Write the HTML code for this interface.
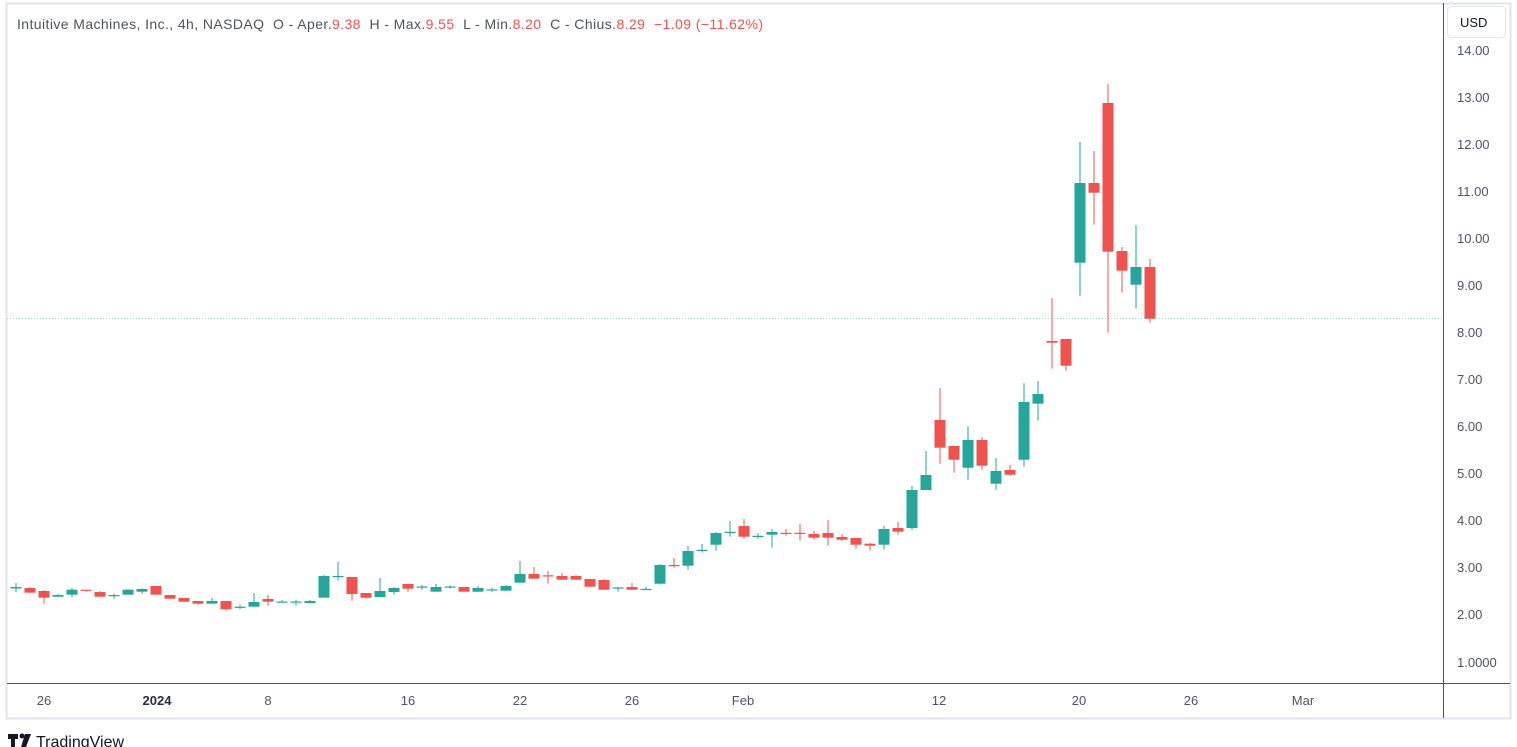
<!DOCTYPE html>
<html><head><meta charset="utf-8"><style>
html,body{margin:0;padding:0;background:#fff;}
body{width:1517px;height:747px;overflow:hidden;position:relative;font-family:"Liberation Sans",sans-serif;}
</style></head><body>
<svg id="s" width="1517" height="747" viewBox="0 0 1517 747" xmlns="http://www.w3.org/2000/svg" style="position:absolute;left:0;top:0">
<rect x="0" y="0" width="1517" height="747" fill="#fff"/>
<rect x="6.5" y="3.5" width="1504" height="715" fill="none" stroke="#e0e3eb" stroke-width="2"/>
<line x1="7" y1="683.5" x2="1510" y2="683.5" stroke="#50535e" stroke-width="1"/>
<line x1="1443.5" y1="3" x2="1443.5" y2="718" stroke="#50535e" stroke-width="1"/>
<line x1="7" y1="318.5" x2="1443" y2="318.5" stroke="#9bd6d0" stroke-width="1" stroke-dasharray="1,2"/>
<g id="c"></g>
<g font-size="13" fill="#50535e" font-family="Liberation Sans,sans-serif">
<text x="1457" y="55">14.00</text><text x="1457" y="102">13.00</text><text x="1457" y="149">12.00</text>
<text x="1457" y="196">11.00</text><text x="1457" y="243">10.00</text><text x="1457" y="290">9.00</text>
<text x="1457" y="337">8.00</text><text x="1457" y="384">7.00</text><text x="1457" y="431">6.00</text>
<text x="1457" y="478">5.00</text><text x="1457" y="525">4.00</text><text x="1457" y="572">3.00</text>
<text x="1457" y="619">2.00</text><text x="1457" y="667">1.0000</text>
</g>
<rect x="1447.5" y="6.5" width="58" height="31" rx="4" fill="#fff" stroke="#e0e3eb"/>
<text x="1460" y="27" font-size="13" fill="#131722">USD</text>
<g font-size="13" fill="#50535e" text-anchor="middle">
<text x="44" y="705">26</text><text x="157" y="705" font-weight="bold" fill="#2a2e39">2024</text>
<text x="268" y="705">8</text><text x="408" y="705">16</text><text x="520" y="705">22</text>
<text x="632" y="705">26</text><text x="743" y="705">Feb</text><text x="939" y="705">12</text>
<text x="1079" y="705">20</text><text x="1191" y="705">26</text><text x="1303" y="705">Mar</text>
</g>
<text x="17" y="29" font-size="14" fill="#50535e" style="white-space:pre" xml:space="preserve" textLength="746" lengthAdjust="spacing">Intuitive Machines, Inc., 4h, NASDAQ  O - Aper.<tspan fill="#ef5350">9.38</tspan>  H - Max.<tspan fill="#ef5350">9.55</tspan>  L - Min.<tspan fill="#ef5350">8.20</tspan>  C - Chius.<tspan fill="#ef5350">8.29  −1.09 (−11.62%)</tspan></text>
<rect x="8" y="734" width="10" height="5" fill="#131722"/><rect x="11" y="734" width="4" height="13" fill="#131722"/>
<circle cx="22" cy="736" r="2.5" fill="#131722"/><polygon points="25,734 31,734 26,747 21,747" fill="#131722"/>
<text x="36" y="747" font-size="16" fill="#131722">TradingView</text>
</svg>
<script>
var G='#26a69a',R='#ef5350';
var d=[
[587,588.5,583,592,G],[588,592.7,587,592.7,R],[591,597.7,590,603.7,R],[595,596.7,594,596.7,G],[589.7,594.7,588,597,G],
[589.7,590.9,589.7,591.7,R],[592,596.7,591,596.7,R],[595,596.2,593.7,598.7,G],[589.7,594.7,589,594.7,G],[589,591.7,588.3,593.7,G],
[586,594.7,586,594.7,R],[595,598.7,595,598.7,R],[598,601.7,598,601.7,R],[601,603.7,601,604.7,R],[601,603.7,598,603.7,G],
[601,609.3,601,610.7,R],[606.7,607.7,604.7,609.3,G],[602,606.7,593,606.7,G],[599,601.7,595,605.7,R],[601.5,602.5,600,602.5,G],
[601.5,602.5,599.7,605.7,G],[601,603,600,603.7,G],[576,597.7,575,597.7,G],[576,577.2,561.7,580.7,G],[577,594,577,600.7,R],
[593,597.7,593,598.7,R],[591,597,578,597,G],[588,592,587,594.7,G],[584,588.7,584,591.7,R],[586.5,587.7,585,589.7,G],
[587,591.7,584,591.7,G],[586.5,587.7,585.3,588.7,G],[587,591.7,587,591.7,R],[588,591.7,586,591.7,G],[589.4,590.6,587.7,591.7,G],
[586,590.7,585,590.7,G],[574,582.7,561,582.7,G],[574,578.7,567,578.7,R],[575.3,576.5,571,583.7,R],[576,579.7,573,579.7,R],
[576,579.7,575,579.7,R],[579,586.7,579,586.7,R],[580,589.7,579,589.7,R],[587.4,588.6,587,591.7,G],[587,589.7,583,589.7,R],
[588.9,590,587,590,G],[565,583.7,564,584.7,G],[565,566.2,558,567.7,R],[551,565.7,546,569.7,G],[549.8,551,544,552.7,G],
[533,544.7,532,550.7,G],[531.8,533,521,536.7,G],[526,536.7,519,538.7,R],[535.8,537,533,538.7,G],[532,534.7,529,547.7,G],
[532.8,534,529,535.7,R],[532.8,534,524,540.7,R],[534,537.7,531,539.7,R],[533,537.7,520,545.7,R],[537,539.7,534,541,R],
[538,544.7,538,548.7,R],[543.7,545.7,543,550.7,R],[529,544.7,526,549.7,G],[528,531.7,522,534.7,R],[490,528,486,530,G],
[475,490,451,490,G],[420,447.7,388,463.7,R],[446,459.7,446,472.7,R],[440,467.7,426,479.7,G],[440,465.7,437,469.7,R],
[471,483.7,458,489.7,G],[470,474.7,465,475.7,R],[402,459.7,383,466.7,G],[394,403.7,381,420.7,G],[341,342.7,298,368.7,R],
[339,365.7,339,370.7,R],[183,262.7,142,295.7,G],[183,192.7,151,224.7,R],[103,251.7,84,332.7,R],[251,270.7,247,292.7,R],
[267,284.7,225,308.7,G],[267,318.7,259,322.7,R]];
var ns='http://www.w3.org/2000/svg',g=document.getElementById('c');
d.forEach(function(c,i){var x=16+14*i;
var l=document.createElementNS(ns,'rect');l.setAttribute('x',x-0.5);l.setAttribute('y',c[2]);l.setAttribute('width',1);l.setAttribute('height',Math.max(1,c[3]-c[2]));l.setAttribute('fill',c[4]);g.appendChild(l);
var b=document.createElementNS(ns,'rect');b.setAttribute('x',x-5.5);b.setAttribute('y',c[0]);b.setAttribute('width',11);b.setAttribute('height',Math.max(1.2,c[1]-c[0]));b.setAttribute('fill',c[4]);g.appendChild(b);});
</script>
</body></html>
